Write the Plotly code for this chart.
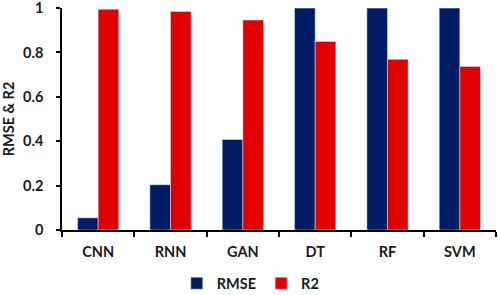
import plotly.graph_objects as go

categories = ["CNN", "RNN", "GAN", "DT", "RF", "SVM"]
rmse = [0.055, 0.204, 0.408, 1.0, 1.0, 1.0]
r2 = [0.995, 0.985, 0.946, 0.85, 0.769, 0.737]
y_ticks = [0, 0.2, 0.4, 0.6, 0.8, 1]
y_tick_labels = ["0", "0.2", "0.4", "0.6", "0.8", "1"]

font = dict(family="Lato, Open Sans, sans-serif", size=14.5, color="#1a1a1a", weight="bold")

fig = go.Figure()
fig.add_bar(x=categories, y=rmse, name="RMSE", marker_color="#001c64")
fig.add_bar(x=categories, y=r2, name="R2", marker_color="#e00000")

fig.update_layout(
    width=498, height=295,
    margin=dict(l=62, r=2, t=8, b=65, autoexpand=False),
    paper_bgcolor="white", plot_bgcolor="white",
    barmode="group", bargap=0.43, bargroupgap=0,
    font=font,
    showlegend=True,
    legend=dict(orientation="h", x=0.435, xanchor="center", y=-0.24, yanchor="middle",
                font=dict(size=14.5, weight="bold"), itemwidth=30,
                tracegroupgap=0, traceorder="normal"),
)
fig.update_xaxes(showline=True, linecolor="black", linewidth=1.5,
                 ticks="outside", tickson="boundaries", ticklen=5,
                 tickcolor="black", tickwidth=1.5, ticklabelstandoff=8,
                 showgrid=False)
fig.update_yaxes(range=[0, 1.0005], tickvals=y_ticks, ticktext=y_tick_labels,
                 showline=True, linecolor="black", linewidth=1.5,
                 ticks="outside", ticklen=4, tickcolor="black", tickwidth=1.5,
                 ticklabelstandoff=10, ticklabeloverflow="allow",
                 showgrid=False, zeroline=False,
                 title=dict(text="RMSE & R2", font=dict(size=14.5, weight="bold"), standoff=12))

fig.write_html("out.html", config={"displayModeBar": False},
               post_script="document.body.style.margin='0';document.body.style.overflow='hidden';")
